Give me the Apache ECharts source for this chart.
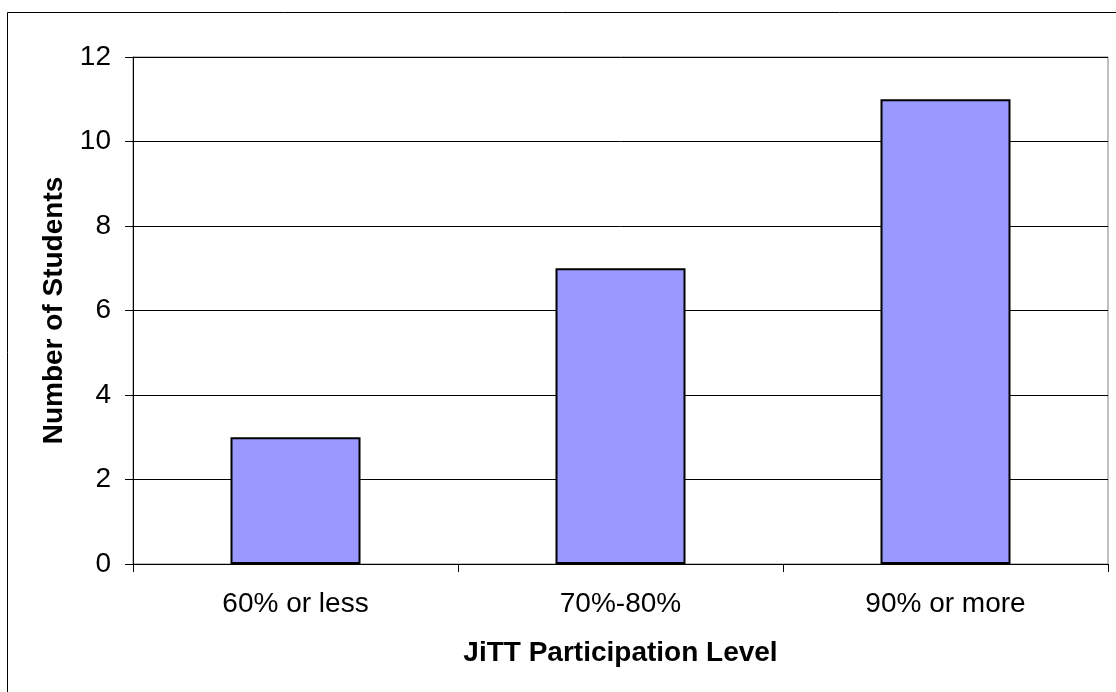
<!DOCTYPE html>
<html><head><meta charset="utf-8">
<script src="https://cdn.jsdelivr.net/npm/echarts@6/dist/echarts.min.js"></script>
<style>html,body{margin:0;padding:0;background:#fff}#c{width:1116px;height:692px}</style>
</head><body><div id="c"></div>
<script>
const categories = ['60% or less', '70%-80%', '90% or more'];
const students = [3, 7, 11];
const yTicks = [0, 2, 4, 6, 8, 10, 12];
const xTitle = 'JiTT Participation Level';
const yTitle = 'Number of Students';

const chart = echarts.init(document.getElementById('c'), null, {renderer: 'canvas'});
const font = 'Liberation Sans, Arial, sans-serif';
chart.setOption({
  animation: false,
  backgroundColor: '#fff',
  graphic: [{
    type: 'rect', shape: {x: 7.5, y: 12.5, width: 1200, height: 800},
    style: {fill: 'none', stroke: '#000', lineWidth: 1}, silent: true
  }],
  grid: {left: 133, right: 8, top: 57, bottom: 128, show: true, borderColor: '#808080', borderWidth: 1, backgroundColor: 'transparent'},
  xAxis: {
    type: 'category', data: categories,
    axisLine: {lineStyle: {color: '#000', width: 1}},
    axisTick: {show: true, length: 8, lineStyle: {color: '#000'}},
    axisLabel: {color: '#000', fontSize: 28, fontFamily: font, margin: 26},
    name: xTitle, nameLocation: 'middle', nameGap: 75,
    nameTextStyle: {color: '#000', fontSize: 28, fontWeight: 'bold', fontFamily: font}
  },
  yAxis: {
    type: 'value', min: yTicks[0], max: yTicks[yTicks.length - 1], interval: 2,
    axisLine: {show: true, lineStyle: {color: '#000', width: 1}},
    axisTick: {show: true, length: 8, lineStyle: {color: '#000'}},
    axisLabel: {color: '#000', fontSize: 28, fontFamily: font, margin: 22},
    splitLine: {show: true, lineStyle: {color: '#000', width: 1}},
    name: yTitle, nameLocation: 'middle', nameGap: 65,
    nameTextStyle: {color: '#000', fontSize: 28, fontWeight: 'bold', fontFamily: font}
  },
  series: [{
    type: 'bar', data: students, barWidth: '40%',
    itemStyle: {color: '#9999FF', borderColor: '#000', borderWidth: 2}
  }]
});
</script></body></html>
